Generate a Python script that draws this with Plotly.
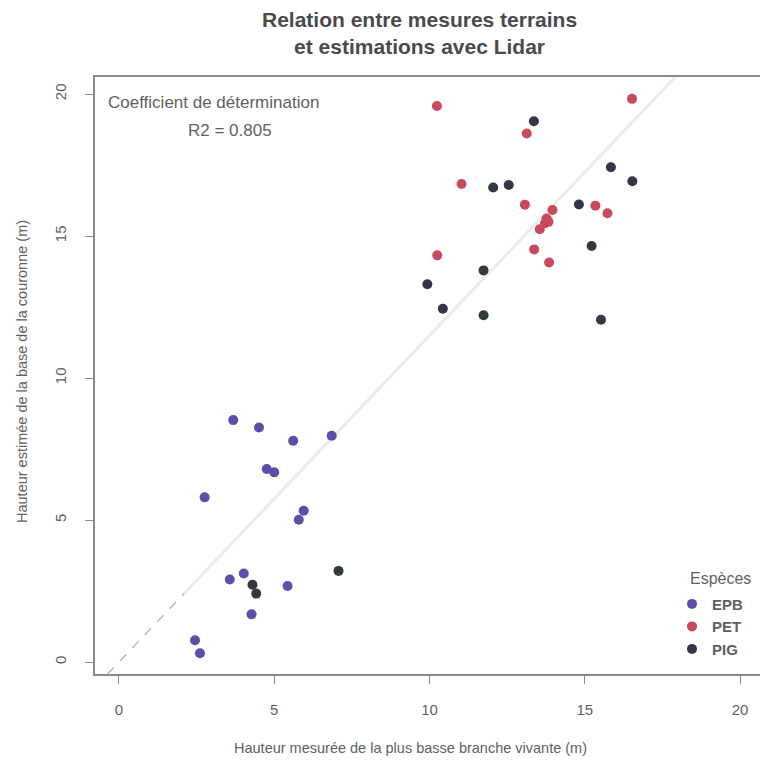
import plotly.graph_objects as go
import numpy as np

# Data
epb_x = [3.68, 4.51, 5.61, 6.85, 4.76, 5.00, 2.76, 5.95, 5.79, 4.02, 3.57, 5.43, 4.27, 2.45, 2.61]
epb_y = [8.52, 8.26, 7.79, 7.97, 6.80, 6.68, 5.80, 5.33, 5.01, 3.12, 2.91, 2.68, 1.68, 0.77, 0.31]

pet_x = [10.24, 16.52, 13.13, 11.03, 13.07, 15.34, 15.73, 13.96, 13.77, 13.83, 13.72, 13.55, 13.37, 13.85, 10.25]
pet_y = [19.58, 19.83, 18.61, 16.83, 16.10, 16.07, 15.80, 15.92, 15.62, 15.50, 15.45, 15.24, 14.53, 14.07, 14.32]

pig_x = [13.36, 15.84, 16.53, 12.05, 12.55, 14.81, 15.22, 11.74, 9.93, 10.43, 11.74, 15.52, 7.07, 4.30, 4.42]
pig_y = [19.04, 17.42, 16.93, 16.71, 16.80, 16.11, 14.65, 13.79, 13.30, 12.44, 12.21, 12.05, 3.21, 2.72, 2.41]

species = ["EPB", "PET", "PIG"]
colors = ["#5b50a8", "#c94a5c", "#323843"]

fit_intercept = 0.0
fit_slope = 1.15
r2_value = 0.805

x_ticks = [0, 5, 10, 15, 20]
y_ticks = [0, 5, 10, 15, 20]

x_range = [-0.77, 20.64]
y_range = [-0.42, 20.6]

grey_txt = "#5f5f5f"
font_family = "Liberation Sans, Arial, sans-serif"

fig = go.Figure()

# regression line: dashed lower part, light solid remainder
x_start = (y_range[0] - fit_intercept) / fit_slope
x_end = (y_range[1] - fit_intercept) / fit_slope
x_mid = 2.1
xs_solid = np.array([x_mid, x_end])
fig.add_trace(go.Scatter(x=xs_solid, y=fit_intercept + fit_slope * xs_solid, mode="lines",
                         line=dict(color="#ebebeb", width=3), showlegend=False, hoverinfo="skip"))
xs_dash = np.array([x_start, x_mid])
fig.add_trace(go.Scatter(x=xs_dash, y=fit_intercept + fit_slope * xs_dash, mode="lines",
                         line=dict(color="#b5b5b5", width=1.3, dash="dash"), showlegend=False, hoverinfo="skip"))

for name, xs, ys, c in zip(species, [epb_x, pet_x, pig_x], [epb_y, pet_y, pig_y], colors):
    fig.add_trace(go.Scatter(x=xs, y=ys, mode="markers", name=name,
                             marker=dict(color=c, size=10, line=dict(width=0))))

axis_common = dict(
    showgrid=False, zeroline=False, showline=True, linecolor="#8a8a8a", linewidth=1.5,
    ticks="outside", ticklen=8, tickcolor="#8a8a8a", tickwidth=1.2,
    tickfont=dict(family=font_family, size=15, color=grey_txt),
    ticklabelstandoff=13,
)

fig.update_layout(
    width=760, height=765,
    margin=dict(l=95, r=0, t=77, b=91),
    paper_bgcolor="white", plot_bgcolor="white",
    font=dict(family=font_family, color=grey_txt),
    xaxis=dict(range=x_range, tickvals=x_ticks, mirror=True, **axis_common),
    yaxis=dict(range=y_range, tickvals=y_ticks, tickangle=-90, **axis_common),
    legend=dict(
        font=dict(size=15, color=grey_txt, family=font_family, weight="bold"),
        x=(672 - 95) / 665, xanchor="left", y=0.014, yanchor="bottom",
        bgcolor="rgba(0,0,0,0)", itemwidth=30, tracegroupgap=0,
    ),
    showlegend=True,
)

annotations = [
    dict(text="<b>Relation entre mesures terrains<br>et estimations avec Lidar</b>",
         xref="paper", yref="paper", x=(419 - 95) / 665, y=1 + (77 - 33.5) / 597,
         xanchor="center", yanchor="middle", showarrow=False,
         font=dict(size=21, color="#4a4a4a", family=font_family)),
    dict(text="Espèces",
         xref="paper", yref="paper", x=(720 - 95) / 665, y=(674 - 578) / 597,
         xanchor="center", yanchor="middle", showarrow=False,
         font=dict(size=16, color=grey_txt, family=font_family)),
    dict(text="Hauteur mesurée de la plus basse branche vivante (m)",
         xref="paper", yref="paper", x=(410 - 95) / 665, y=-(748 - 674) / 597,
         xanchor="center", yanchor="middle", showarrow=False,
         font=dict(size=14.5, color=grey_txt, family=font_family)),
    dict(text="Hauteur estimée de la base de la couronne (m)",
         xref="paper", yref="paper", x=-(95 - 22) / 665, y=(674 - 372) / 597,
         xanchor="center", yanchor="middle", showarrow=False, textangle=-90,
         font=dict(size=14.5, color=grey_txt, family=font_family)),
    dict(text="Coefficient de détermination",
         xref="paper", yref="paper", x=(106 - 95) / 665, y=(674 - 102) / 597,
         xanchor="left", yanchor="middle", showarrow=False,
         font=dict(size=17, color=grey_txt, family=font_family)),
    dict(text=f"R2 = {r2_value}",
         xref="paper", yref="paper", x=(230 - 95) / 665, y=(674 - 130) / 597,
         xanchor="center", yanchor="middle", showarrow=False,
         font=dict(size=17, color=grey_txt, family=font_family)),
]
fig.update_layout(annotations=annotations)

fig.write_html("out.html")
